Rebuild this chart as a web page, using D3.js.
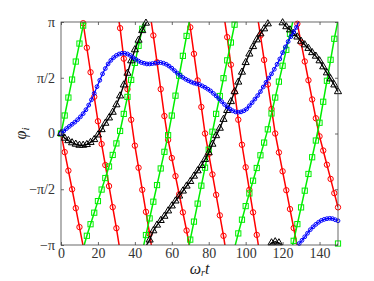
<!DOCTYPE html>
<html><head><meta charset="utf-8">
<script src="https://cdn.jsdelivr.net/npm/d3@7/dist/d3.min.js"></script>
<style>body{margin:0;background:#fff}svg{display:block}</style>
</head><body>
<svg id="c" width="374" height="281"></svg>
<script>
// ---- data (phases in radians, shown wrapped to [-pi, pi]) ----
const tStep = 2;          // time step of red / green / black samples
const blueStep = 1.5;     // time step of blue samples
const xTickValues = [0, 20, 40, 60, 80, 100, 120, 140];
const yTickLabels = ["−π", "−π/2", "0", "π/2", "π"];

const redPhase = [0,-0.524,-1.047,-1.571,-2.103,-2.636,3.107,2.416,1.726,1.035,0.345,-0.296,-0.889,-1.482,-2.075,-2.668,
  2.969,2.108,1.248,0.387,-0.342,-0.964,-1.586,-2.208,-2.831,2.763,2.006,1.249,0.492,-0.179,-0.690,-1.201,-1.711,-2.222,-2.733,
  2.992,2.244,1.496,0.748,0.000,-0.576,-1.153,-1.729,-2.306,-2.882,2.715,1.939,1.163,0.388,-0.317,-0.952,-1.587,-2.222,-2.857,
  2.762,2.072,1.381,0.691,0.000,-0.533,-1.065,-1.598,-2.130,-2.663,3.09,2.56,2.03,1.50,0.96,0.43,-0.08,-0.48,-0.88,-1.28,-1.68,-2.08];

const greenPhase = [0,0.507,1.013,1.520,2.027,2.534,3.040,-2.882,-2.556,-2.231,-1.905,-1.580,-1.255,-0.929,-0.604,-0.279,
  0.072,0.552,1.031,1.511,1.990,2.470,2.950,-2.861,-2.392,-1.922,-1.453,-0.985,-0.516,-0.047,0.505,1.066,1.627,2.188,2.749,
  -2.990,-2.483,-1.976,-1.470,-0.963,-0.456,0.050,0.553,1.056,1.558,2.061,2.564,3.066,-2.815,-2.429,-2.046,-1.688,-1.330,-0.972,
  -0.614,-0.256,0.117,0.565,1.013,1.461,1.909,2.357,2.806,-3.024,-2.553,-2.082,-1.611,-1.140,-0.669,-0.198,0.303,0.894,1.486,2.077,2.669,-3.10];

const blackPhase = [0,-0.13,-0.20,-0.26,-0.30,-0.33,-0.33,-0.31,-0.25,-0.17,-0.04,0.11,0.29,0.44,0.60,0.81,1.06,1.37,1.70,2.05,
  2.36,2.63,2.90,3.11,-3.00,-2.74,-2.58,-2.45,-2.33,-2.18,-2.04,-1.90,-1.76,-1.62,-1.48,-1.35,-1.20,-1.05,-0.90,-0.73,-0.54,
  -0.30,-0.06,0.15,0.40,0.65,0.90,1.18,1.45,1.73,2.00,2.24,2.45,2.64,2.81,2.95,3.09,-3.08,-3.05,-3.08,3.12,3.01,2.92,2.82,
  2.72,2.60,2.50,2.40,2.28,2.18,2.05,1.88,1.71,1.54,1.37,1.18];

const bluePhase = [0.00,0.07,0.14,0.20,0.26,0.32,0.39,0.47,0.56,0.67,0.80,0.95,1.13,1.32,1.50,1.68,1.83,1.96,2.06,2.14,2.20,
  2.24,2.26,2.26,2.24,2.20,2.14,2.09,2.04,2.00,1.98,1.96,1.96,1.97,1.98,2.00,2.00,1.98,1.95,1.90,1.84,1.77,1.70,1.64,1.58,
  1.53,1.49,1.45,1.42,1.40,1.38,1.34,1.30,1.25,1.20,1.13,1.06,0.98,0.90,0.82,0.75,0.69,0.64,0.61,0.60,0.61,0.64,0.69,0.78,
  0.87,0.97,1.07,1.18,1.31,1.44,1.56,1.68,1.81,1.95,2.10,2.28,2.44,2.59,2.73,2.86,2.99,-3.10,-3.01,-2.91,-2.81,-2.71,-2.63,
  -2.56,-2.50,-2.45,-2.42,-2.40,-2.39,-2.40,-2.43,-2.46];

// ---- layout ----
const PI = Math.PI;
const svg = d3.select("#c");
const x = d3.scaleLinear().domain([0, 150]).range([61, 338]);
const y = d3.scaleLinear().domain([-PI, PI]).range([245, 22]);
const font = "'Liberation Serif', 'Times New Roman', serif";

svg.append("defs").append("clipPath").attr("id", "plotclip")
  .append("rect").attr("x", x(0)).attr("y", y(PI)).attr("width", x(150) - x(0)).attr("height", y(-PI) - y(PI));

function toPoints(vals, step) { return vals.map((v, i) => ({t: i * step, v})); }
function unwrap(pts) {
  let off = 0; const out = [];
  pts.forEach((p, i) => {
    if (i > 0) {
      const d = p.v - pts[i - 1].v;
      if (d > PI) off -= 2 * PI; else if (d < -PI) off += 2 * PI;
    }
    out.push({t: p.t, v: p.v + off});
  });
  return out;
}

const series = [
  {vals: redPhase, step: tStep, color: "#ff0000", marker: "circle", lw: 1.5},
  {vals: greenPhase, step: tStep, color: "#00ee00", marker: "square", lw: 1.5},
  {vals: blackPhase, step: tStep, color: "#000000", marker: "triangle", lw: 1.4},
  {vals: bluePhase, step: blueStep, color: "#0000ff", marker: "smallcircle", lw: 1.2}
];

const plot = svg.append("g");
const lineGen = d3.line().x(d => x(d.t)).y(d => y(d.v));

series.forEach(s => {
  const pts = toPoints(s.vals, s.step);
  const uw = unwrap(pts);
  const g = plot.append("g");
  const lg = g.append("g").attr("clip-path", "url(#plotclip)");
  for (let k = -12; k <= 12; k++) {
    lg.append("path")
      .attr("d", lineGen(uw.map(p => ({t: p.t, v: p.v + 2 * PI * k}))))
      .attr("fill", "none").attr("stroke", s.color).attr("stroke-width", s.lw);
  }
  const mg = g.append("g");
  if (s.marker === "circle" || s.marker === "smallcircle") {
    mg.selectAll("circle").data(pts).join("circle")
      .attr("cx", d => x(d.t)).attr("cy", d => y(d.v))
      .attr("r", s.marker === "circle" ? 2.7 : 1.9)
      .attr("fill", "none").attr("stroke", s.color).attr("stroke-width", 1);
  } else if (s.marker === "square") {
    mg.selectAll("rect").data(pts).join("rect")
      .attr("x", d => x(d.t) - 2.6).attr("y", d => y(d.v) - 2.6)
      .attr("width", 5.2).attr("height", 5.2)
      .attr("fill", "none").attr("stroke", s.color).attr("stroke-width", 1);
  } else {
    const tri = d3.symbol().type(d3.symbolTriangle).size(22);
    mg.selectAll("path").data(pts).join("path")
      .attr("d", tri).attr("transform", d => `translate(${x(d.t)},${y(d.v)})`)
      .attr("fill", "none").attr("stroke", s.color).attr("stroke-width", 1);
  }
});

// ---- axes (box with inward ticks) ----
const axCol = "#444";
const yTickValues = [-PI, -PI / 2, 0, PI / 2, PI];
function styleAxis(g) {
  g.select(".domain").remove();
  g.selectAll("line").attr("stroke", axCol).attr("stroke-width", 0.8);
  g.selectAll("text").attr("fill", "#333").style("font-family", font).style("font-size", "14px");
}
svg.append("g").attr("transform", `translate(0,${y(-PI)})`)
  .call(d3.axisBottom(x).tickValues(xTickValues).tickSize(-3).tickPadding(3).tickFormat(d3.format("d")))
  .call(styleAxis);
svg.append("g").attr("transform", `translate(0,${y(PI)})`)
  .call(d3.axisTop(x).tickValues(xTickValues).tickSize(-3).tickFormat(""))
  .call(styleAxis);
svg.append("g").attr("transform", `translate(${x(0)},0)`)
  .call(d3.axisLeft(y).tickValues(yTickValues).tickSize(-3).tickPadding(6).tickFormat((d, i) => yTickLabels[i]))
  .call(styleAxis);
svg.append("g").attr("transform", `translate(${x(150)},0)`)
  .call(d3.axisRight(y).tickValues(yTickValues).tickSize(-3).tickFormat(""))
  .call(styleAxis);
svg.append("rect").attr("x", x(0)).attr("y", y(PI)).attr("width", x(150) - x(0)).attr("height", y(-PI) - y(PI))
  .attr("fill", "none").attr("stroke", axCol).attr("stroke-width", 0.8);

// ---- axis labels ----
const xl = svg.append("text").attr("x", (x(0) + x(150)) / 2).attr("y", 274).attr("text-anchor", "middle")
  .style("font-family", font).style("font-size", "16px").attr("fill", "#222");
xl.append("tspan").style("font-style", "italic").text("ω");
xl.append("tspan").style("font-style", "italic").style("font-size", "10px").attr("dy", 2).text("r");
xl.append("tspan").style("font-style", "italic").attr("dy", -2).text("t");

const yl = svg.append("text").attr("transform", `translate(26,${y(0)}) rotate(-90)`).attr("text-anchor", "middle")
  .style("font-family", font).style("font-size", "16px").attr("fill", "#222");
yl.append("tspan").style("font-style", "italic").text("φ");
yl.append("tspan").style("font-style", "italic").style("font-size", "11px").attr("dy", 3).text("i");
</script>
</body></html>
